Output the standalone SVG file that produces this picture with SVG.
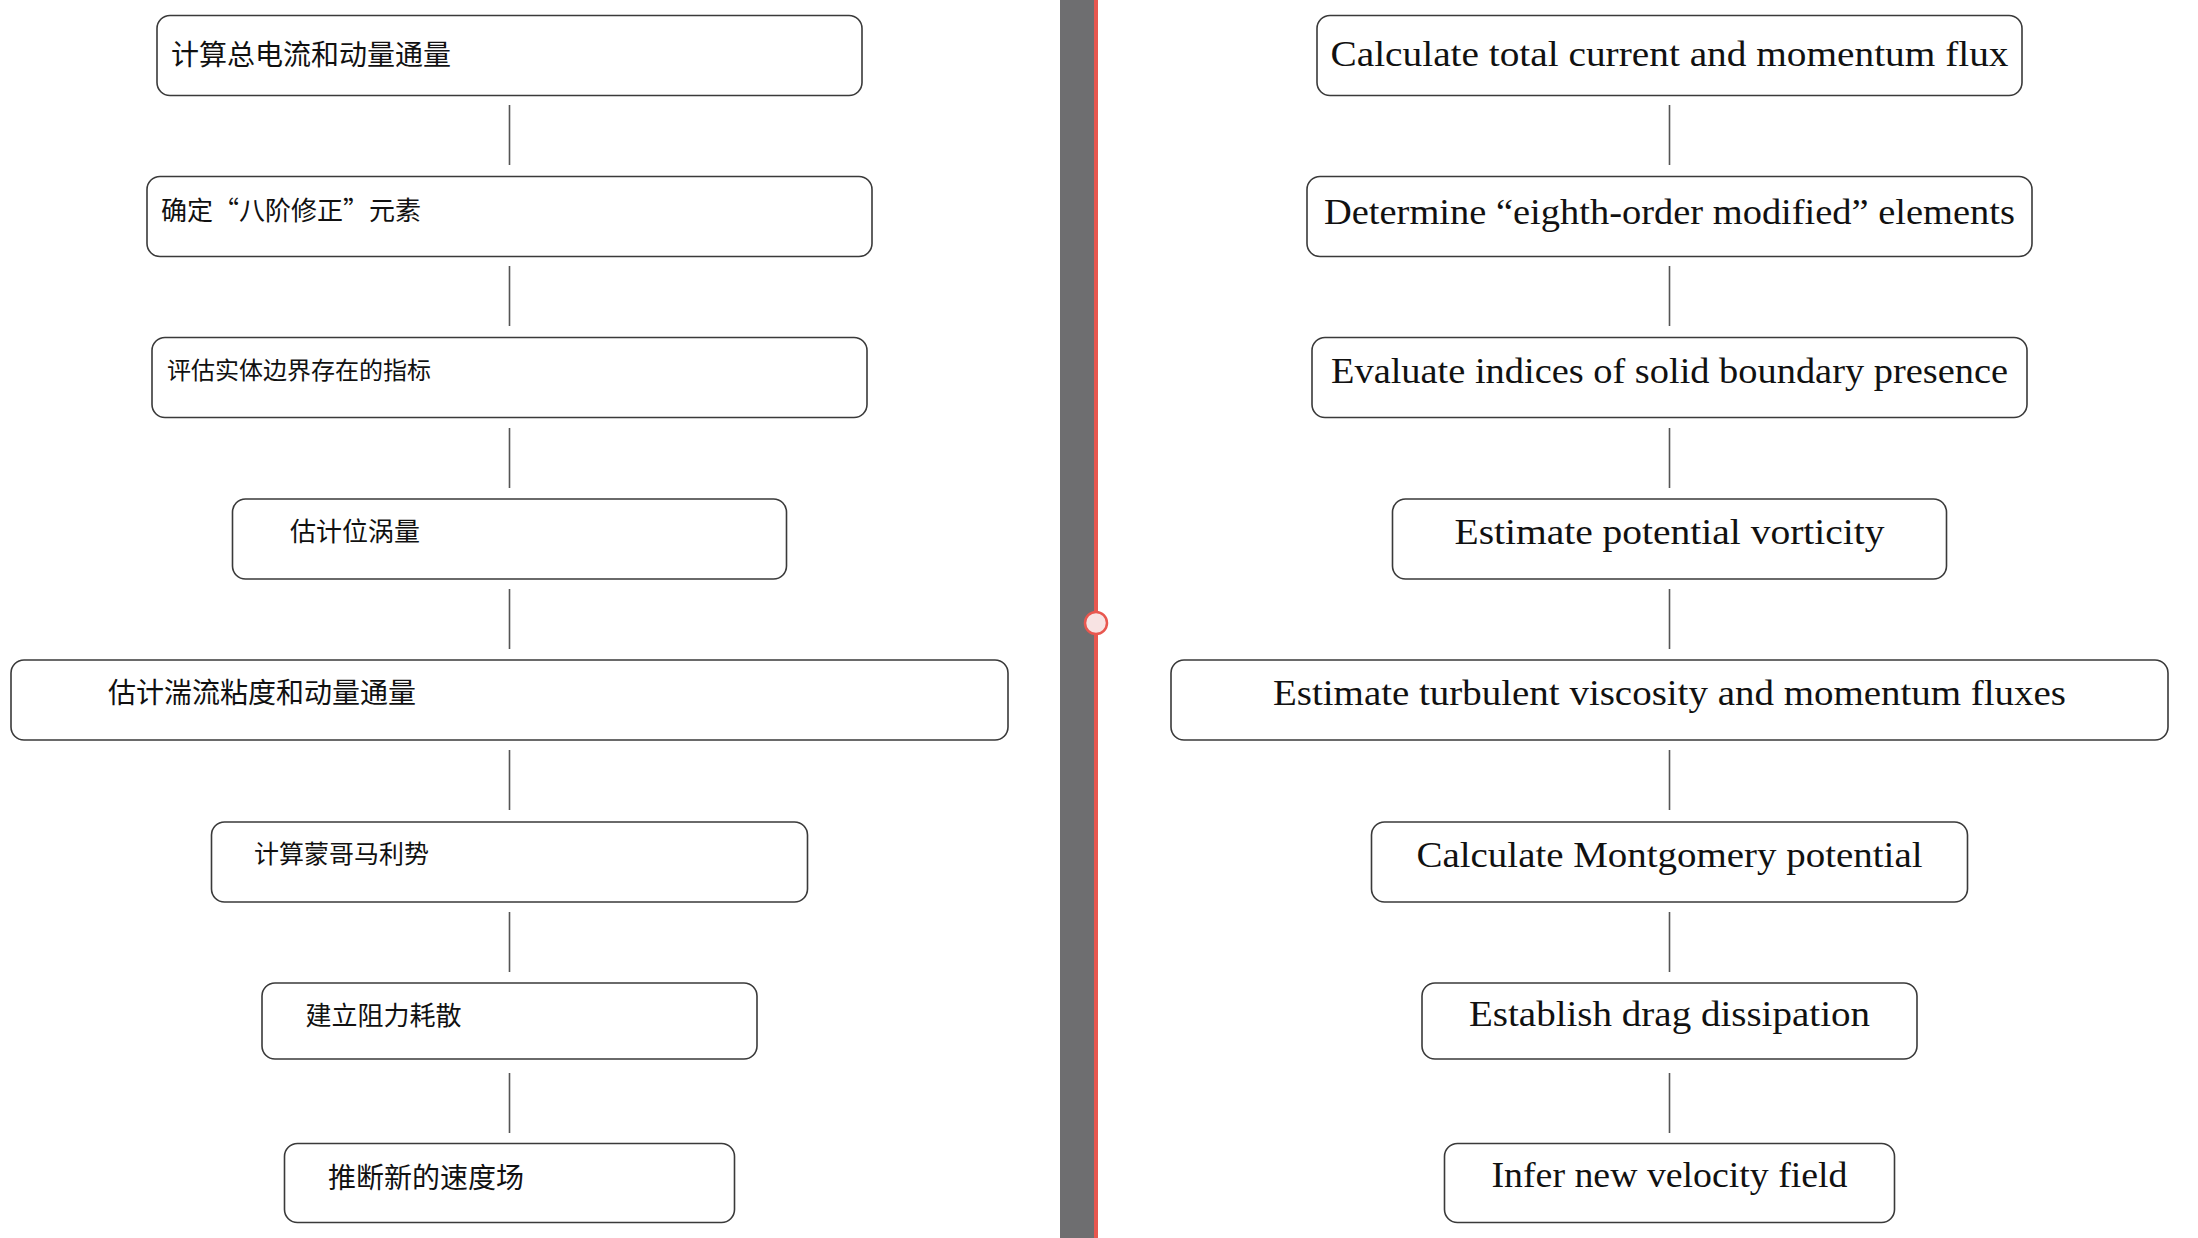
<svg xmlns="http://www.w3.org/2000/svg" width="2198" height="1238" viewBox="0 0 2198 1238">
<style>
.box{fill:#fff;stroke:#3a3a3a;stroke-width:1.6}
.zh{font-family:"Noto Sans CJK SC","Noto Sans",sans-serif;fill:#111}
.en{font-family:"Liberation Serif","DejaVu Serif",serif;font-size:35px;fill:#111;text-anchor:middle}
.conn line{stroke:#555;stroke-width:1.6}
</style>
<rect width="2198" height="1238" fill="#fff"/>
<g id="divider">
<rect x="1060" y="0" width="34" height="1238" fill="#6e6e70"/>
<rect x="1094" y="0" width="4" height="1238" fill="#e8574f"/>
<circle cx="1096" cy="623" r="11" fill="#f8e3e3" stroke="#e8574f" stroke-width="2.5"/>
</g>
<g id="connectors" class="conn">
<line x1="509.5" y1="105" x2="509.5" y2="165"/>
<line x1="509.5" y1="266" x2="509.5" y2="326"/>
<line x1="509.5" y1="428" x2="509.5" y2="488"/>
<line x1="509.5" y1="589" x2="509.5" y2="649"/>
<line x1="509.5" y1="750" x2="509.5" y2="810"/>
<line x1="509.5" y1="912" x2="509.5" y2="972"/>
<line x1="509.5" y1="1073" x2="509.5" y2="1133"/>
<line x1="1669.5" y1="105" x2="1669.5" y2="165"/>
<line x1="1669.5" y1="266" x2="1669.5" y2="326"/>
<line x1="1669.5" y1="428" x2="1669.5" y2="488"/>
<line x1="1669.5" y1="589" x2="1669.5" y2="649"/>
<line x1="1669.5" y1="750" x2="1669.5" y2="810"/>
<line x1="1669.5" y1="912" x2="1669.5" y2="972"/>
<line x1="1669.5" y1="1073" x2="1669.5" y2="1133"/>
</g>
<g id="zh1"><rect class="box" x="157" y="15.5" width="705" height="80" rx="13"/><text class="zh" x="171" y="65" font-size="28">计算总电流和动量通量</text></g>
<g id="zh2"><rect class="box" x="147" y="176.5" width="725" height="80" rx="13"/><text class="zh" x="161" y="220" font-size="26">确定“八阶修正”元素</text></g>
<g id="zh3"><rect class="box" x="152" y="337.5" width="715" height="80" rx="13"/><text class="zh" x="167" y="379" font-size="24">评估实体边界存在的指标</text></g>
<g id="zh4"><rect class="box" x="232.5" y="499" width="554" height="80" rx="13"/><text class="zh" x="290" y="541" font-size="26">估计位涡量</text></g>
<g id="zh5"><rect class="box" x="11" y="660" width="997" height="80" rx="13"/><text class="zh" x="108" y="703" font-size="28">估计湍流粘度和动量通量</text></g>
<g id="zh6"><rect class="box" x="211.5" y="822" width="596" height="80" rx="13"/><text class="zh" x="254" y="863" font-size="25">计算蒙哥马利势</text></g>
<g id="zh7"><rect class="box" x="262" y="983" width="495" height="76" rx="13"/><text class="zh" x="305.5" y="1025" font-size="26">建立阻力耗散</text></g>
<g id="zh8"><rect class="box" x="284.5" y="1143.5" width="450" height="79" rx="13"/><text class="zh" x="328" y="1187.6" font-size="28">推断新的速度场</text></g>
<g id="en1"><rect class="box" x="1317" y="15.5" width="705" height="80" rx="13"/><text class="en" x="1669.5" y="66" textLength="678" lengthAdjust="spacingAndGlyphs">Calculate total current and momentum flux</text></g>
<g id="en2"><rect class="box" x="1307" y="176.5" width="725" height="80" rx="13"/><text class="en" x="1669.5" y="223.5" textLength="691" lengthAdjust="spacingAndGlyphs">Determine “eighth-order modified” elements</text></g>
<g id="en3"><rect class="box" x="1312" y="337.5" width="715" height="80" rx="13"/><text class="en" x="1669.5" y="383.3" textLength="677" lengthAdjust="spacingAndGlyphs">Evaluate indices of solid boundary presence</text></g>
<g id="en4"><rect class="box" x="1392.5" y="499" width="554" height="80" rx="13"/><text class="en" x="1669.5" y="544" textLength="430" lengthAdjust="spacingAndGlyphs">Estimate potential vorticity</text></g>
<g id="en5"><rect class="box" x="1171" y="660" width="997" height="80" rx="13"/><text class="en" x="1669.5" y="705" textLength="793" lengthAdjust="spacingAndGlyphs">Estimate turbulent viscosity and momentum fluxes</text></g>
<g id="en6"><rect class="box" x="1371.5" y="822" width="596" height="80" rx="13"/><text class="en" x="1669.5" y="866.5" textLength="506" lengthAdjust="spacingAndGlyphs">Calculate Montgomery potential</text></g>
<g id="en7"><rect class="box" x="1422" y="983" width="495" height="76" rx="13"/><text class="en" x="1669.5" y="1026" textLength="401" lengthAdjust="spacingAndGlyphs">Establish drag dissipation</text></g>
<g id="en8"><rect class="box" x="1444.5" y="1143.5" width="450" height="79" rx="13"/><text class="en" x="1669.5" y="1187" textLength="356" lengthAdjust="spacingAndGlyphs">Infer new velocity field</text></g>
</svg>
